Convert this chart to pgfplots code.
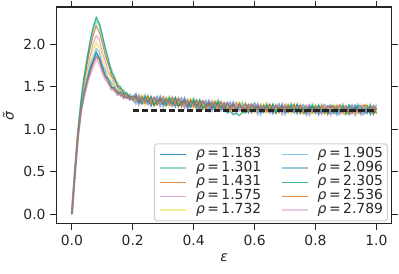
\documentclass[border=0pt]{standalone}
\usepackage{fontspec}
\setmainfont{DejaVu Sans}
\usepackage{pgfplots}
\usepackage{pgfplotstable}
\pgfplotsset{compat=1.18}
\definecolor{cbblue}{HTML}{0173B2}
\definecolor{cbgreen}{HTML}{029E73}
\definecolor{cbred}{HTML}{D55E00}
\definecolor{cbpink}{HTML}{CC78BC}
\definecolor{cbyellow}{HTML}{ECE133}
\definecolor{cblblue}{HTML}{56B4E9}
\definecolor{spine}{HTML}{262626}
\pgfplotsset{
  sA/.style={cbblue, draw opacity=0.8, line width=0.75pt},
  sB/.style={cbgreen, draw opacity=0.4, line width=1.5pt},
  sC/.style={cbred, draw opacity=0.7, line width=0.75pt},
  sD/.style={cbpink, draw opacity=0.65, line width=0.75pt},
  sE/.style={cbyellow, draw opacity=0.5, line width=1.5pt},
  sF/.style={cblblue, draw opacity=0.75, line width=0.75pt},
  sG/.style={cbblue, draw opacity=0.4, line width=1.5pt},
  sH/.style={cbgreen, draw opacity=0.75, line width=0.75pt},
  sI/.style={cbred, draw opacity=0.7, line width=0.75pt},
  sJ/.style={cbpink, draw opacity=0.4, line width=1.5pt},
}
\pgfplotstableread{
x a b c d e f g h i j
0.00 0 0 0 0 0 0 0 0 0 0
0.01 0.49 0.50 0.50 0.50 0.49 0.49 0.49 0.50 0.49 0.49
0.02 0.93 0.97 0.96 0.95 0.94 0.93 0.92 0.97 0.92 0.92
0.03 1.22 1.32 1.30 1.28 1.26 1.24 1.22 1.33 1.21 1.21
0.04 1.43 1.59 1.55 1.52 1.47 1.45 1.41 1.61 1.40 1.38
0.05 1.56 1.82 1.77 1.69 1.66 1.60 1.57 1.83 1.55 1.52
0.06 1.72 2.01 1.96 1.86 1.79 1.76 1.69 2.04 1.66 1.65
0.07 1.80 2.18 2.10 2.01 1.93 1.85 1.80 2.20 1.78 1.73
0.08 1.91 2.28 2.22 2.10 2.02 1.95 1.88 2.32 1.85 1.83
0.09 1.84 2.23 2.14 2.06 1.96 1.91 1.83 2.25 1.82 1.77
0.10 1.74 2.07 2.02 1.90 1.85 1.76 1.72 2.11 1.68 1.67
0.11 1.63 1.94 1.86 1.80 1.72 1.69 1.61 1.95 1.62 1.58
0.12 1.59 1.77 1.77 1.67 1.66 1.58 1.58 1.83 1.53 1.55
0.13 1.49 1.70 1.63 1.62 1.54 1.55 1.48 1.67 1.51 1.46
0.14 1.49 1.57 1.59 1.52 1.53 1.47 1.49 1.62 1.44 1.47
0.15 1.42 1.54 1.49 1.50 1.44 1.47 1.41 1.51 1.45 1.40
0.16 1.44 1.46 1.48 1.43 1.46 1.40 1.43 1.50 1.39 1.42
0.17 1.37 1.46 1.41 1.44 1.39 1.42 1.37 1.42 1.41 1.37
0.18 1.40 1.39 1.42 1.38 1.41 1.36 1.40 1.43 1.36 1.40
0.19 1.35 1.41 1.37 1.40 1.36 1.39 1.35 1.37 1.39 1.35
0.20 1.38 1.35 1.39 1.34 1.38 1.34 1.38 1.39 1.34 1.38
0.21 1.39 1.31 1.37 1.42 1.34 1.32 1.41 1.35 1.38 1.30
0.22 1.31 1.37 1.40 1.32 1.39 1.36 1.29 1.38 1.33 1.40
0.23 1.39 1.35 1.31 1.29 1.40 1.32 1.36 1.30 1.38 1.34
0.24 1.32 1.40 1.30 1.36 1.29 1.37 1.35 1.39 1.31 1.33
0.25 1.35 1.31 1.38 1.33 1.37 1.39 1.30 1.32 1.40 1.29
0.26 1.27 1.37 1.33 1.37 1.32 1.28 1.36 1.39 1.29 1.35
0.27 1.37 1.32 1.27 1.36 1.34 1.35 1.30 1.28 1.38 1.36
0.28 1.33 1.38 1.35 1.29 1.30 1.39 1.31 1.34 1.28 1.37
0.29 1.36 1.28 1.34 1.39 1.31 1.29 1.38 1.32 1.35 1.27
0.30 1.29 1.35 1.38 1.30 1.37 1.34 1.27 1.36 1.31 1.38
0.31 1.37 1.33 1.29 1.27 1.38 1.30 1.34 1.28 1.36 1.32
0.32 1.30 1.38 1.28 1.34 1.27 1.35 1.33 1.37 1.29 1.31
0.33 1.33 1.29 1.36 1.31 1.35 1.37 1.28 1.30 1.38 1.27
0.34 1.26 1.36 1.32 1.36 1.31 1.27 1.35 1.38 1.28 1.34
0.35 1.36 1.31 1.26 1.35 1.33 1.34 1.29 1.27 1.37 1.35
0.36 1.31 1.36 1.33 1.27 1.28 1.37 1.29 1.32 1.26 1.35
0.37 1.34 1.26 1.32 1.37 1.29 1.27 1.36 1.30 1.33 1.25
0.38 1.26 1.32 1.35 1.27 1.34 1.31 1.24 1.33 1.28 1.35
0.39 1.35 1.31 1.27 1.25 1.36 1.28 1.32 1.26 1.34 1.30
0.40 1.28 1.36 1.26 1.32 1.25 1.33 1.31 1.35 1.27 1.29
0.41 1.30 1.26 1.33 1.28 1.32 1.34 1.25 1.27 1.35 1.24
0.42 1.23 1.33 1.29 1.33 1.28 1.24 1.32 1.35 1.25 1.31
0.43 1.33 1.28 1.23 1.32 1.30 1.31 1.26 1.24 1.34 1.32
0.44 1.28 1.33 1.30 1.24 1.25 1.34 1.26 1.29 1.23 1.32
0.45 1.31 1.23 1.29 1.34 1.26 1.24 1.33 1.27 1.30 1.22
0.46 1.24 1.30 1.33 1.25 1.32 1.29 1.22 1.31 1.26 1.33
0.47 1.33 1.29 1.25 1.23 1.34 1.26 1.30 1.24 1.32 1.28
0.48 1.26 1.34 1.24 1.30 1.23 1.31 1.29 1.33 1.25 1.27
0.49 1.28 1.24 1.31 1.26 1.30 1.32 1.23 1.25 1.33 1.22
0.50 1.21 1.31 1.27 1.31 1.26 1.22 1.30 1.28 1.23 1.29
0.51 1.31 1.26 1.21 1.30 1.28 1.29 1.24 1.19 1.32 1.30
0.52 1.26 1.31 1.28 1.22 1.23 1.32 1.24 1.21 1.21 1.30
0.53 1.29 1.21 1.27 1.32 1.24 1.22 1.31 1.17 1.28 1.20
0.54 1.22 1.28 1.31 1.23 1.30 1.27 1.20 1.19 1.24 1.31
0.55 1.31 1.27 1.23 1.21 1.32 1.24 1.28 1.16 1.30 1.26
0.56 1.23 1.31 1.21 1.27 1.20 1.28 1.26 1.20 1.22 1.24
0.57 1.26 1.22 1.29 1.24 1.28 1.30 1.21 1.19 1.31 1.20
0.58 1.19 1.29 1.25 1.29 1.24 1.20 1.28 1.23 1.21 1.27
0.59 1.29 1.24 1.19 1.28 1.26 1.27 1.22 1.20 1.30 1.28
0.60 1.25 1.30 1.27 1.21 1.22 1.31 1.23 1.26 1.20 1.29
0.61 1.27 1.19 1.25 1.30 1.22 1.20 1.29 1.23 1.26 1.18
0.62 1.20 1.26 1.29 1.21 1.28 1.25 1.18 1.27 1.22 1.29
0.63 1.29 1.25 1.21 1.19 1.30 1.22 1.26 1.20 1.28 1.24
0.64 1.22 1.30 1.20 1.26 1.19 1.27 1.25 1.29 1.21 1.23
0.65 1.25 1.21 1.28 1.23 1.27 1.29 1.20 1.22 1.30 1.19
0.66 1.18 1.28 1.24 1.28 1.23 1.19 1.27 1.30 1.20 1.26
0.67 1.28 1.23 1.18 1.27 1.25 1.26 1.21 1.19 1.29 1.27
0.68 1.24 1.29 1.26 1.20 1.21 1.30 1.22 1.25 1.19 1.28
0.69 1.27 1.19 1.25 1.30 1.22 1.20 1.29 1.23 1.26 1.18
0.70 1.20 1.26 1.29 1.21 1.28 1.25 1.18 1.27 1.22 1.29
0.71 1.29 1.25 1.21 1.19 1.30 1.22 1.26 1.20 1.28 1.24
0.72 1.22 1.30 1.20 1.26 1.19 1.27 1.25 1.29 1.21 1.23
0.73 1.25 1.21 1.28 1.23 1.27 1.29 1.20 1.22 1.30 1.19
0.74 1.18 1.28 1.24 1.28 1.23 1.19 1.27 1.30 1.20 1.26
0.75 1.28 1.23 1.18 1.27 1.25 1.26 1.21 1.19 1.29 1.27
0.76 1.23 1.28 1.25 1.19 1.20 1.29 1.21 1.24 1.18 1.27
0.77 1.19 1.25 1.28 1.20 1.27 1.24 1.17 1.26 1.21 1.28
0.78 1.26 1.18 1.24 1.29 1.21 1.19 1.28 1.22 1.25 1.17
0.79 1.21 1.29 1.19 1.25 1.18 1.26 1.24 1.28 1.20 1.22
0.80 1.28 1.24 1.20 1.18 1.29 1.21 1.25 1.19 1.27 1.23
0.81 1.17 1.27 1.23 1.27 1.22 1.18 1.26 1.29 1.19 1.25
0.82 1.24 1.20 1.27 1.22 1.26 1.28 1.19 1.21 1.29 1.18
0.83 1.23 1.28 1.25 1.19 1.20 1.29 1.21 1.24 1.18 1.27
0.84 1.27 1.22 1.17 1.26 1.24 1.25 1.20 1.18 1.28 1.26
0.85 1.26 1.18 1.24 1.29 1.21 1.19 1.28 1.22 1.25 1.17
0.86 1.28 1.24 1.20 1.18 1.29 1.21 1.25 1.19 1.27 1.23
0.87 1.19 1.25 1.28 1.20 1.27 1.24 1.17 1.26 1.21 1.28
0.88 1.24 1.20 1.27 1.22 1.26 1.28 1.19 1.21 1.29 1.18
0.89 1.21 1.29 1.19 1.25 1.18 1.26 1.24 1.28 1.20 1.22
0.90 1.27 1.22 1.17 1.26 1.24 1.25 1.20 1.18 1.28 1.26
0.91 1.17 1.27 1.23 1.27 1.22 1.18 1.26 1.29 1.19 1.25
0.92 1.23 1.28 1.25 1.19 1.20 1.29 1.21 1.24 1.18 1.27
0.93 1.26 1.18 1.24 1.29 1.21 1.19 1.28 1.22 1.25 1.17
0.94 1.21 1.29 1.19 1.25 1.18 1.26 1.24 1.28 1.20 1.22
0.95 1.19 1.25 1.28 1.20 1.27 1.24 1.17 1.26 1.21 1.28
0.96 1.24 1.20 1.27 1.22 1.26 1.28 1.19 1.21 1.29 1.18
0.97 1.28 1.24 1.20 1.18 1.29 1.21 1.25 1.19 1.27 1.23
0.98 1.17 1.27 1.23 1.27 1.22 1.18 1.26 1.29 1.19 1.25
0.99 1.27 1.22 1.17 1.26 1.24 1.25 1.20 1.18 1.28 1.26
1.00 1.23 1.28 1.25 1.19 1.20 1.29 1.21 1.24 1.18 1.27
}\data
\newcommand{\rh}[1]{\textit{ρ}\hspace{0.18em}=\hspace{0.18em}#1}
\begin{document}
\begin{tikzpicture}
\begin{axis}[
  scale only axis,
  width=241.2pt, height=156.2pt,
  xmin=-0.05, xmax=1.05, ymin=-0.115, ymax=2.44,
  xtick={0,0.2,0.4,0.6,0.8,1.0},
  ytick={0,0.5,1.0,1.5,2.0},
  tick pos=both, tick align=outside,
  xticklabel pos=lower, yticklabel pos=left,
  major tick length=4.5pt,
  minor tick num=0,
  every tick/.style={spine, line width=0.8pt},
  axis line style={spine, line width=0.8pt},
  /pgf/number format/assume math mode=true,
  /pgf/number format/.cd, fixed, fixed zerofill, precision=1,
  /pgfplots/.cd,
  ticklabel style={font=\fontsize{10}{12}\selectfont, text=spine},
  xlabel={\textit{ε}},
  ylabel={\textit{σ̃}},
  label style={font=\fontsize{10}{12}\selectfont, text=spine},
  xlabel style={yshift=1pt},
  legend columns=2,
  legend cell align=left,
  legend image code/.code={\draw[#1] (0pt,0pt) -- (18.7pt,0pt); \path (25.2pt,0pt);},
  legend style={at={(rel axis cs:0.989,0.011)}, anchor=south east,
    draw=black!18, line width=0.8pt, rounded corners=2pt, fill=white, fill opacity=0.8, text opacity=1,
    inner xsep=3.2pt, inner ysep=2.5pt,
    font=\fontsize{10}{10}\selectfont,
    nodes={inner xsep=0pt, inner ysep=0pt, text height=7.6pt, text depth=2.5pt, text=spine},
    column sep=0pt,
    /tikz/every even column/.append style={column sep=14pt}},
  no markers,
]
\addplot[sA, forget plot] table[x=x,y=a]{\data};
\addplot[sB, forget plot] table[x=x,y=b]{\data};
\addplot[sC, forget plot] table[x=x,y=c]{\data};
\addplot[sD, forget plot] table[x=x,y=d]{\data};
\addplot[sE, forget plot] table[x=x,y=e]{\data};
\addplot[sF, forget plot] table[x=x,y=f]{\data};
\addplot[sG, forget plot] table[x=x,y=g]{\data};
\addplot[sH, forget plot] table[x=x,y=h]{\data};
\addplot[sI, forget plot] table[x=x,y=i]{\data};
\addplot[sJ, forget plot] table[x=x,y=j]{\data};
\addplot[black!85, line width=1.6pt, dash pattern=on 4.5pt off 2pt, forget plot] coordinates {(0.2,1.22) (1.0,1.22)};
\addlegendimage{sA}\addlegendentry{\rh{1.183}}
\addlegendimage{sF}\addlegendentry{\rh{1.905}}
\addlegendimage{sB}\addlegendentry{\rh{1.301}}
\addlegendimage{sG}\addlegendentry{\rh{2.096}}
\addlegendimage{sC}\addlegendentry{\rh{1.431}}
\addlegendimage{sH}\addlegendentry{\rh{2.305}}
\addlegendimage{sD}\addlegendentry{\rh{1.575}}
\addlegendimage{sI}\addlegendentry{\rh{2.536}}
\addlegendimage{sE}\addlegendentry{\rh{1.732}}
\addlegendimage{sJ}\addlegendentry{\rh{2.789}}
\end{axis}
\pgfresetboundingbox
\path ([shift={(-40.8pt,-36pt)}]current axis.south west) rectangle ([shift={(5.3pt,5pt)}]current axis.north east);
\end{tikzpicture}
\end{document}
